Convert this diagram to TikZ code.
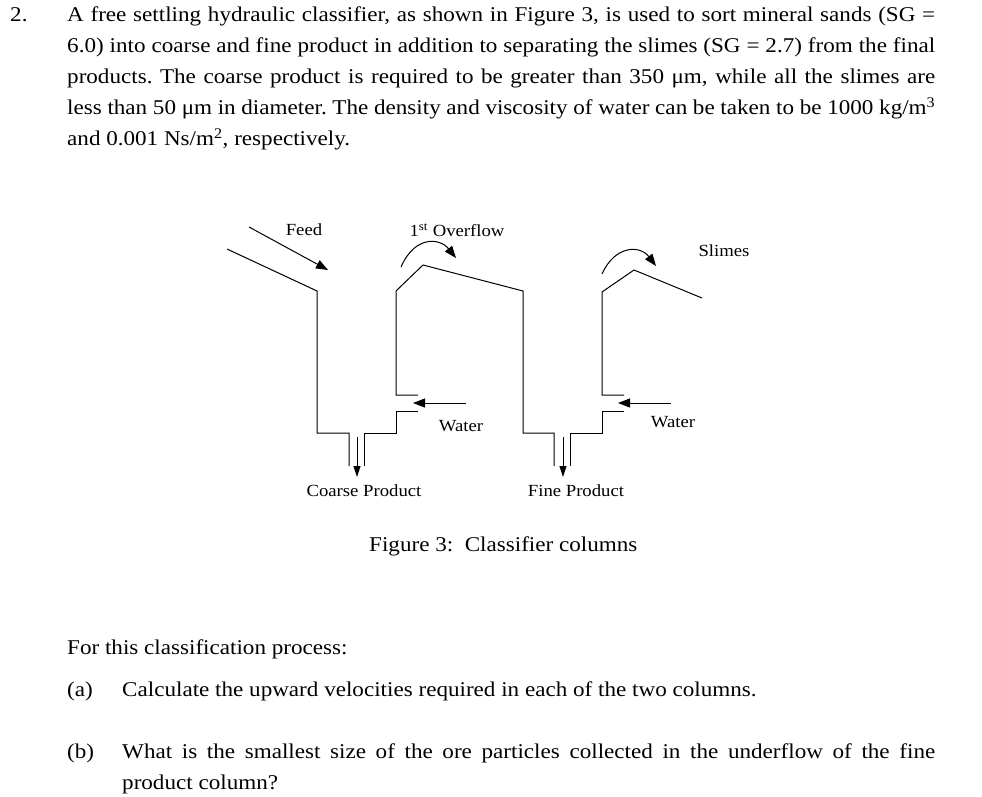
\documentclass[tikz,border=0pt]{standalone}
\usepackage{fontspec}
\setmainfont[FakeStretch=1.1]{Liberation Serif}
\usetikzlibrary{arrows.meta}
\begin{document}
\frenchspacing
\begin{tikzpicture}[x=1pt,y=-1pt,
  wall/.style={line width=1pt},
  flow/.style={line width=1pt,-{Triangle[length=12pt,width=9pt]}},
  lbl/.style={font=\fontsize{17}{19}\selectfont,inner sep=0pt},
  body/.style={font=\fontsize{21}{25}\selectfont,inner sep=0pt,anchor=base west}]
\useasboundingbox (0,0) rectangle (982,797);
% text
\node[body] (n2) at (10,22) {2.};
\node[body] (l1) at (67,22) {\makebox[868pt][s]{A free settling hydraulic classifier, as shown in Figure 3, is used to sort mineral sands (SG =}};
\node[body] (l2) at (67,53) {\makebox[868pt][s]{6.0) into coarse and fine product in addition to separating the slimes (SG = 2.7) from the final}};
\node[body] (l3) at (67,84) {\makebox[868pt][s]{products. The coarse product is required to be greater than 350 μm, while all the slimes are}};
\node[body] (l4) at (67,115) {\makebox[868pt][s]{less than 50 μm in diameter. The density and viscosity of water can be taken to be 1000 kg/m\textsuperscript{3}}};
\node[body] (l5) at (67,146) {and 0.001 Ns/m\textsuperscript{2}, respectively.};
\node[body] (cap) at (369,551) {Figure 3:\ \ Classifier columns};
\node[body] (q0) at (67,654) {For this classification process:};
\node[body] (qa) at (67,696) {(a)};
\node[body] (qat) at (122,696) {Calculate the upward velocities required in each of the two columns.};
\node[body] (qb) at (67,758) {(b)};
\node[body] (qbt) at (122,758) {\makebox[813pt][s]{What is the smallest size of the ore particles collected in the underflow of the fine}};
\node[body] (qbt2) at (122,789) {product column?};
% diagram walls
\draw[wall] (227,249) -- (317,291) -- (317,433) -- (349,433) -- (349,466);
\draw[wall] (364,466) -- (364,433) -- (396,433) -- (396,411) -- (418,411);
\draw[wall] (418,395) -- (396,395) -- (396,291) -- (423,265) -- (523,291) -- (523,433) -- (554,433) -- (554,466);
\draw[wall] (570,466) -- (570,433) -- (602,433) -- (602,411) -- (624,411);
\draw[wall] (624,395) -- (602,395) -- (602,292) -- (634,270) -- (702,298);
% arrows
\coordinate (f0) at (249,227); \coordinate (f1) at (328,270);
\draw[flow] (f0) -- (f1);
\coordinate (w1a) at (466,403); \coordinate (w1b) at (413,403);
\draw[flow] (w1a) -- (w1b);
\coordinate (w2a) at (671,403); \coordinate (w2b) at (618,403);
\draw[flow] (w2a) -- (w2b);
\coordinate (p1a) at (357,437); \coordinate (p1b) at (357,477);
\draw[line width=1pt,-{Triangle[length=11pt,width=7pt]}] (p1a) -- (p1b);
\coordinate (p2a) at (563,437); \coordinate (p2b) at (563,477);
\draw[line width=1pt,-{Triangle[length=11pt,width=7pt]}] (p2a) -- (p2b);
\coordinate (o1a) at (401,267); \coordinate (o1b) at (456,258);
\draw[flow] (o1a) .. controls (415,235) and (440,238) .. (o1b);
\coordinate (o2a) at (602,274); \coordinate (o2b) at (656,266);
\draw[flow] (o2a) .. controls (615,245) and (640,245) .. (o2b);
% labels
\node[lbl] (feed) at (304,230) {Feed};
\node[lbl] (ov) at (457,230) {1\textsuperscript{st} Overflow};
\node[lbl] (sl) at (724,251) {Slimes};
\node[lbl] (wa1) at (461,426) {Water};
\node[lbl] (wa2) at (673,422) {Water};
\node[lbl] (cp) at (364,491) {Coarse Product};
\node[lbl] (fp) at (576,491) {Fine Product};
\end{tikzpicture}
\end{document}
